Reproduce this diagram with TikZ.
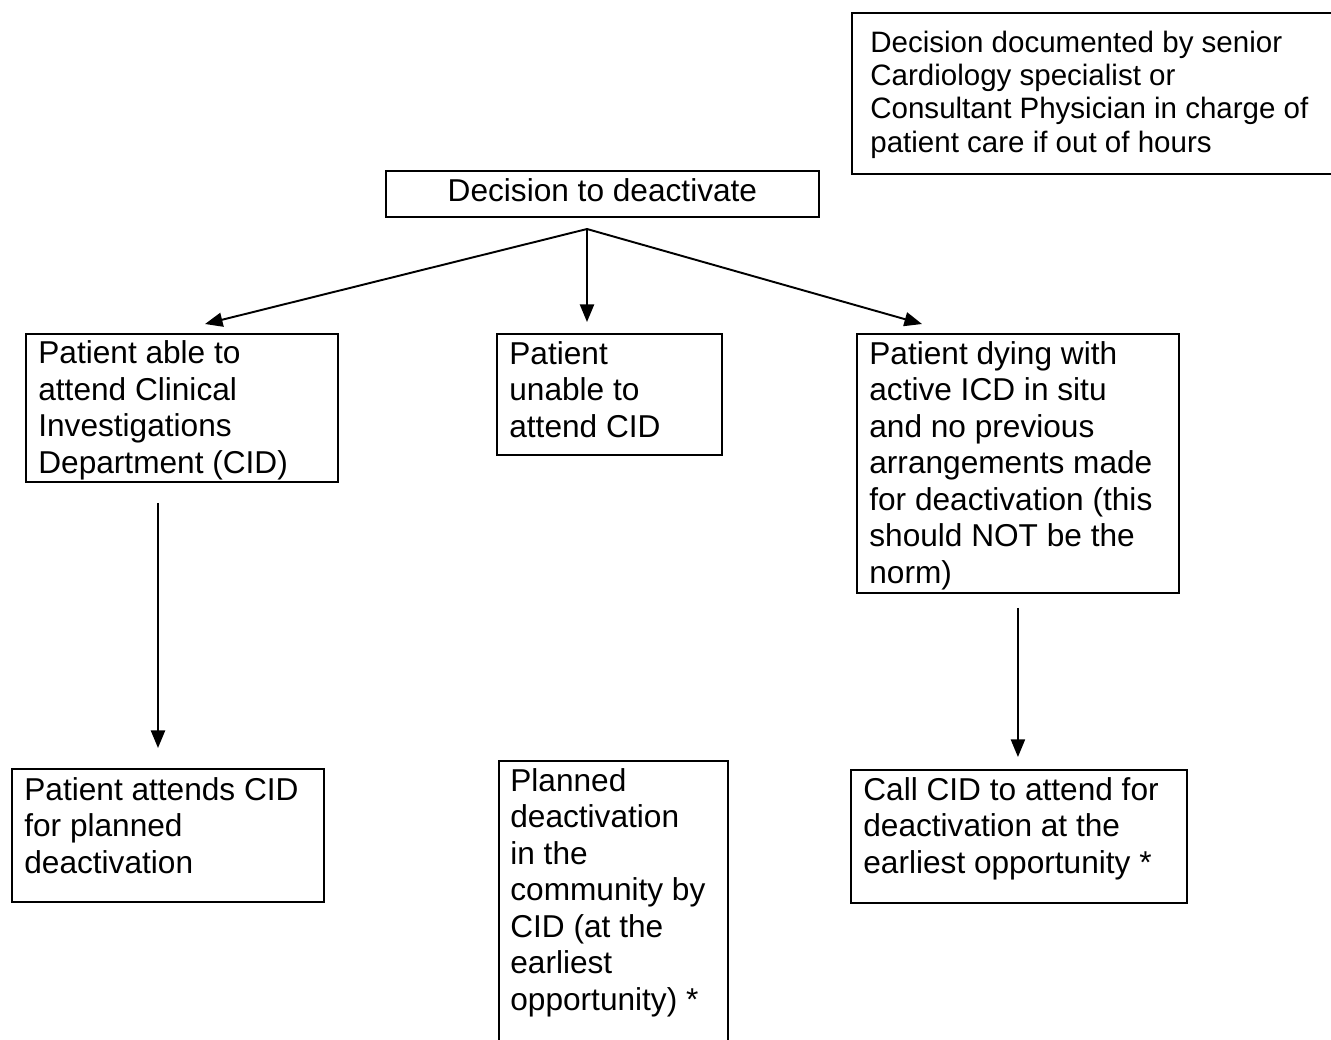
\documentclass[tikz,border=0pt]{standalone}
\usepackage{fontspec}
\setmainfont{Liberation Sans}
\usetikzlibrary{arrows.meta}
\tikzset{
  box/.style={draw, line width=1.1pt, inner sep=0pt, anchor=north west},
  txt/.style={anchor=base west, align=left, inner sep=0pt, font=\fontsize{18}{20.75}\selectfont},
  arr/.style={line width=1.1pt, -{Triangle[length=10pt,width=8pt]}}
}
\begin{document}
\begin{tikzpicture}[x=0.02cm,y=-0.02cm]
\useasboundingbox (0,0) rectangle (1331,1039);
\clip (0,0) rectangle (1331,1039);

\node[box, minimum width=9.88cm, minimum height=3.22cm] (senior) at (851,12) {};
\node[txt, font=\fontsize{16.8}{18.9}\selectfont] (senior-txt) at (870,152) {Decision documented by senior\\Cardiology specialist or\\Consultant Physician in charge of\\patient care if out of hours};

\node[box, minimum width=8.66cm, minimum height=0.92cm, text depth=0.17cm, font=\fontsize{18}{20.75}\selectfont] (decide) at (385,170) {Decision to deactivate};

\node[box, minimum width=6.24cm, minimum height=2.96cm] (able) at (25,333) {};
\node[txt] (able-txt) at (38,473) {Patient able to\\attend Clinical\\Investigations\\Department (CID)};

\node[box, minimum width=4.5cm, minimum height=2.42cm] (unable) at (496,333) {};
\node[txt] (unable-txt) at (509,437) {Patient\\unable to\\attend CID};

\node[box, minimum width=6.44cm, minimum height=5.18cm] (dying) at (856,333) {};
\node[txt] (dying-txt) at (869,583) {Patient dying with\\active ICD in situ\\and no previous\\arrangements made\\for deactivation (this\\should NOT be the\\norm)};

\node[box, minimum width=6.24cm, minimum height=2.66cm] (attends) at (11,768) {};
\node[txt] (attends-txt) at (24,873) {Patient attends CID\\for planned\\deactivation};

\node[box, minimum width=4.58cm, minimum height=6cm] (community) at (498,760) {};
\node[txt] (community-txt) at (510,1010) {Planned\\deactivation\\in the\\community by\\CID (at the\\earliest\\opportunity) *};

\node[box, minimum width=6.72cm, minimum height=2.66cm] (call) at (850,769) {};
\node[txt] (call-txt) at (863,873) {Call CID to attend for\\deactivation at the\\earliest opportunity *};

\coordinate (fork) at (587,229);
\coordinate (tipA) at (205,324);
\coordinate (tipB) at (587,322);
\coordinate (tipC) at (922,324);
\draw[arr] (fork) -- (tipA);
\draw[arr] (fork) -- (tipB);
\draw[arr] (fork) -- (tipC);

\coordinate (colA) at (158,0);
\draw[arr, shorten <=0.4cm, shorten >=0.4cm] (able.south -| colA) -- (attends.north -| colA);
\draw[arr, shorten <=0.28cm, shorten >=0.24cm] (dying.south) -- (dying.south |- call.north);

\end{tikzpicture}
\end{document}
